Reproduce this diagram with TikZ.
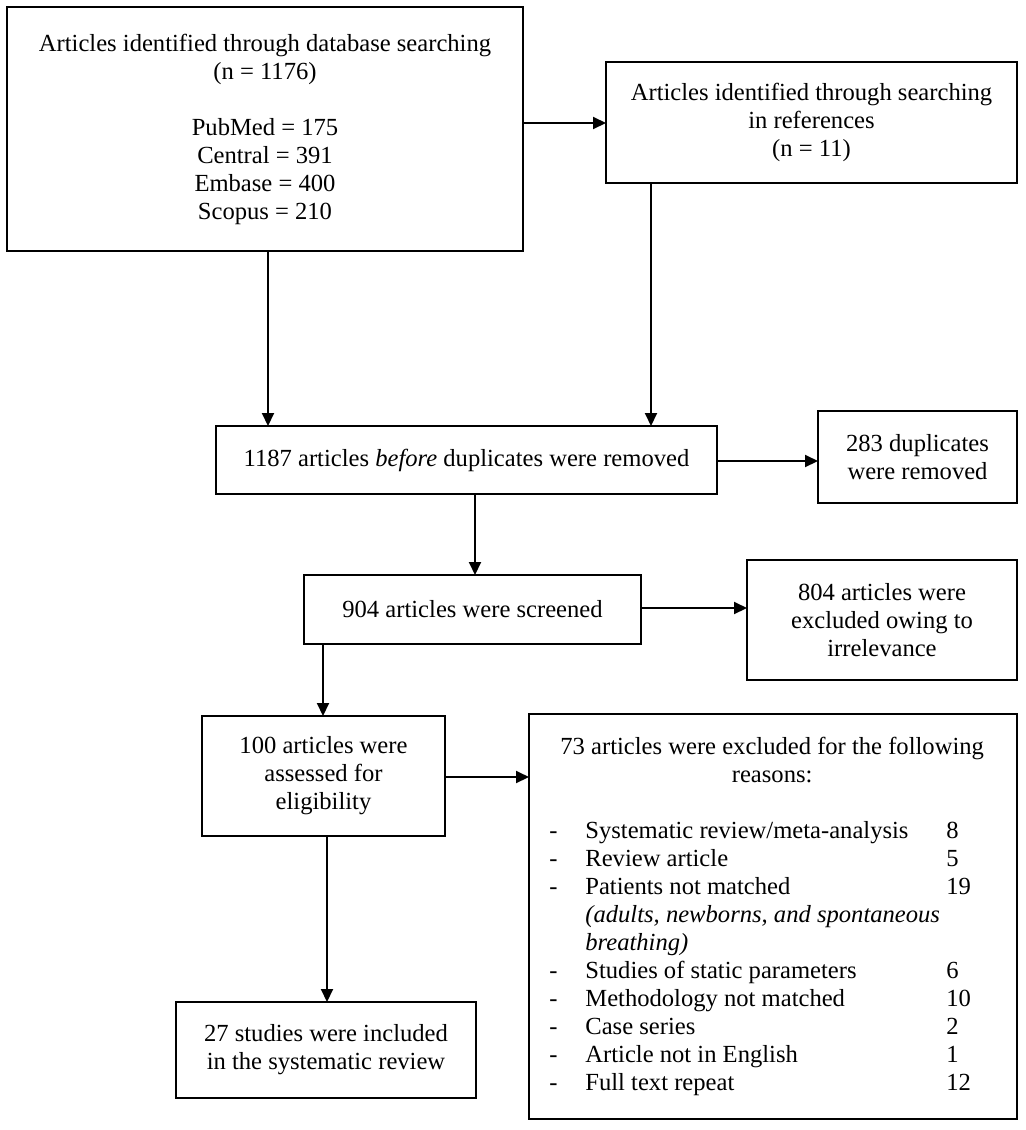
\documentclass[tikz,border=0pt]{standalone}
\usepackage{fontspec}
\setmainfont{Liberation Serif}
\usetikzlibrary{arrows.meta}
\tikzset{
  boxnode/.style={draw=black, line width=1pt, inner sep=0pt, outer sep=0pt, align=center,
    font=\fontsize{12.3}{14}\selectfont},
  arr/.style={draw=black, line width=1pt, -{Triangle[length=6.5pt,width=6pt]}},
  plainline/.style={draw=black, line width=1pt}
}
\begin{document}
\begin{tikzpicture}[x=0.5pt,y=-0.5pt]
\useasboundingbox (0,0) rectangle (1026,1130);

\node[boxnode, minimum width=258pt, minimum height=122pt] (b1) at (265,129)
  {Articles identified through database searching\\(n = 1176)\\[14pt]PubMed = 175\\Central = 391\\Embase = 400\\Scopus = 210};
\node[boxnode, minimum width=205.5pt, minimum height=60.5pt] (b2) at (811.5,122.5)
  {Articles identified through searching\\in references\\(n = 11)};
\node[boxnode, minimum width=250.5pt, minimum height=34pt] (b3) at (466.5,460)
  {1187 articles \textit{before} duplicates were removed};
\node[boxnode, minimum width=99.5pt, minimum height=46pt] (b4) at (917.5,457)
  {283 duplicates\\were removed};
\node[boxnode, minimum width=168.5pt, minimum height=34.5pt] (b5) at (472.5,609.5)
  {904 articles were screened};
\node[boxnode, minimum width=135pt, minimum height=60pt] (b6) at (882,620)
  {804 articles were\\excluded owing to\\irrelevance};
\node[boxnode, minimum width=121.5pt, minimum height=60pt] (b7) at (323.5,776)
  {100 articles were\\assessed for\\eligibility};
\node[boxnode, minimum width=244pt, minimum height=202.5pt] (b8) at (773,916.5) {};
\node[boxnode, minimum width=150pt, minimum height=48pt] (b9) at (326,1050)
  {27 studies were included\\in the systematic review};

\node[anchor=north west, inner sep=0pt, font=\fontsize{12.3}{14}\selectfont] (l8) at (549,734.4)
  {\begin{tabular}{@{}p{18pt}@{}p{180.5pt}@{}l@{}}
  \multicolumn{3}{@{\hspace{5.5pt}}c@{}}{73 articles were excluded for the following}\\
  \multicolumn{3}{@{\hspace{5.5pt}}c@{}}{reasons:}\\[14pt]
  - & Systematic review/meta-analysis & 8\\
  - & Review article & 5\\
  - & Patients not matched & 19\\
    & \multicolumn{2}{@{}l@{}}{\textit{(adults, newborns, and spontaneous}}\\
    & \textit{breathing)} & \\
  - & Studies of static parameters & 6\\
  - & Methodology not matched & 10\\
  - & Case series & 2\\
  - & Article not in English & 1\\
  - & Full text repeat & 12
  \end{tabular}};

\coordinate (xa) at (268,0);
\coordinate (xb) at (651,0);
\coordinate (xc) at (475,0);
\coordinate (xd) at (323,0);
\coordinate (xe) at (327,0);
\coordinate (ya) at (0,123);
\coordinate (yb) at (0,461);
\coordinate (yc) at (0,608);
\coordinate (yd) at (0,777);

\draw[arr] (b1.south -| xa) -- (b3.north -| xa);
\draw[arr] (b2.south -| xb) -- (b3.north -| xb);
\draw[arr] (b1.east |- ya) -- (b2.west |- ya);
\draw[arr] (b3.east |- yb) -- (b4.west |- yb);
\draw[arr] (b3.south -| xc) -- (b5.north -| xc);
\draw[arr] (b5.east |- yc) -- (b6.west |- yc);
\draw[arr] (b5.south -| xd) -- (b7.north -| xd);
\draw[arr] (b7.east |- yd) -- (b8.west |- yd);
\draw[arr] (b7.south -| xe) -- (b9.north -| xe);
\end{tikzpicture}
\end{document}
